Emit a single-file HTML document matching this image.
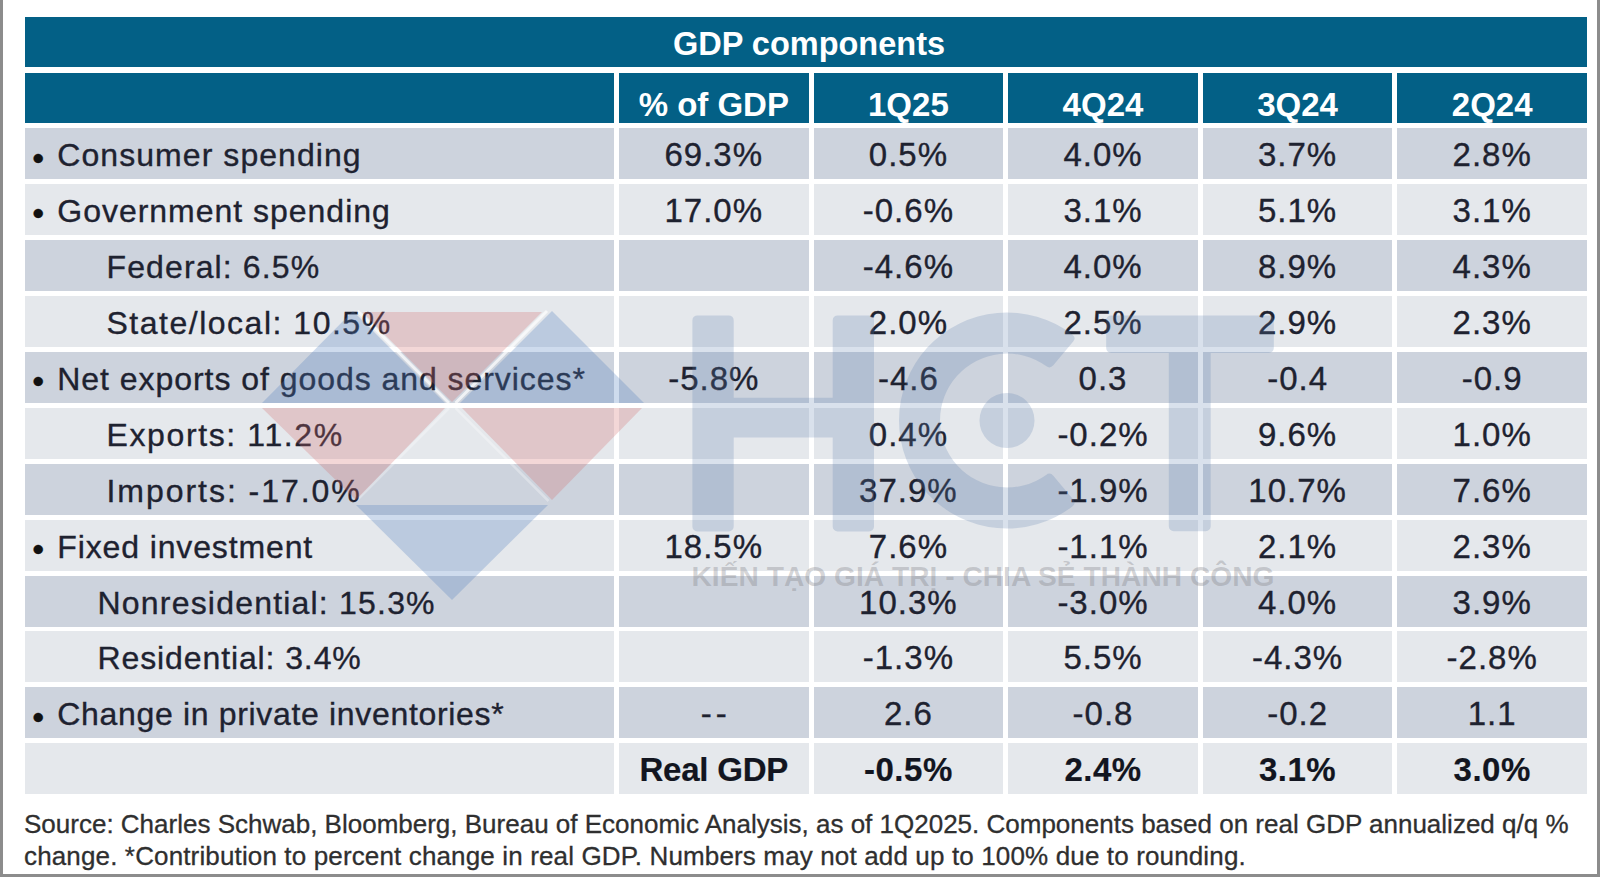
<!DOCTYPE html>
<html><head><meta charset="utf-8"><title>GDP components</title><style>
*{margin:0;padding:0;box-sizing:border-box}
html,body{width:1600px;height:877px;overflow:hidden;background:#fff}
body{position:relative;font-family:"Liberation Sans",Arial,sans-serif;color:#1e2230}
.bg{position:absolute}
.d{background:#cdd3dd}
.w{background:#e5e8ec}
.hb{background:#036086}
.c{position:absolute;display:flex;align-items:center;justify-content:center;white-space:nowrap}
.h{color:#fff;font-weight:bold;font-size:32.5px}
.h2{font-size:33px}
.r{font-size:32px;letter-spacing:1.2px;-webkit-text-stroke:0.35px #1e2230}
.n{font-size:33px;letter-spacing:1.0px}
.l{justify-content:flex-start}
.bd{font-weight:bold;letter-spacing:0.5px;color:#121520;-webkit-text-stroke:0.2px #121520}
.bul{position:absolute;font-size:34px;line-height:34px;color:#111;-webkit-text-stroke:0.3px #111}
.bl{position:absolute;background:#8c8c8c}
.ft{position:absolute;left:24px;font-size:26px;color:#2f2f2f;white-space:nowrap;line-height:1;-webkit-text-stroke:0.3px #2f2f2f}
.wm{position:absolute;left:0;top:0}
</style></head>
<body>
<div class="bg hb" style="left:25px;top:16.5px;width:1562px;height:50px"></div>
<div class="bg hb" style="left:25px;top:72.5px;width:589px;height:50.3px"></div>
<div class="bg hb" style="left:619px;top:72.5px;width:189.6px;height:50.3px"></div>
<div class="bg hb" style="left:813.6px;top:72.5px;width:189.6px;height:50.3px"></div>
<div class="bg hb" style="left:1008.2px;top:72.5px;width:189.6px;height:50.3px"></div>
<div class="bg hb" style="left:1202.8px;top:72.5px;width:189.6px;height:50.3px"></div>
<div class="bg hb" style="left:1397.4px;top:72.5px;width:189.6px;height:50.3px"></div>
<div class="bg d" style="left:25px;top:128.3px;width:589px;height:51px"></div>
<div class="bg d" style="left:619px;top:128.3px;width:189.6px;height:51px"></div>
<div class="bg d" style="left:813.6px;top:128.3px;width:189.6px;height:51px"></div>
<div class="bg d" style="left:1008.2px;top:128.3px;width:189.6px;height:51px"></div>
<div class="bg d" style="left:1202.8px;top:128.3px;width:189.6px;height:51px"></div>
<div class="bg d" style="left:1397.4px;top:128.3px;width:189.6px;height:51px"></div>
<div class="bg w" style="left:25px;top:184.2px;width:589px;height:51px"></div>
<div class="bg w" style="left:619px;top:184.2px;width:189.6px;height:51px"></div>
<div class="bg w" style="left:813.6px;top:184.2px;width:189.6px;height:51px"></div>
<div class="bg w" style="left:1008.2px;top:184.2px;width:189.6px;height:51px"></div>
<div class="bg w" style="left:1202.8px;top:184.2px;width:189.6px;height:51px"></div>
<div class="bg w" style="left:1397.4px;top:184.2px;width:189.6px;height:51px"></div>
<div class="bg d" style="left:25px;top:240.1px;width:589px;height:51px"></div>
<div class="bg d" style="left:619px;top:240.1px;width:189.6px;height:51px"></div>
<div class="bg d" style="left:813.6px;top:240.1px;width:189.6px;height:51px"></div>
<div class="bg d" style="left:1008.2px;top:240.1px;width:189.6px;height:51px"></div>
<div class="bg d" style="left:1202.8px;top:240.1px;width:189.6px;height:51px"></div>
<div class="bg d" style="left:1397.4px;top:240.1px;width:189.6px;height:51px"></div>
<div class="bg w" style="left:25px;top:296.0px;width:589px;height:51px"></div>
<div class="bg w" style="left:619px;top:296.0px;width:189.6px;height:51px"></div>
<div class="bg w" style="left:813.6px;top:296.0px;width:189.6px;height:51px"></div>
<div class="bg w" style="left:1008.2px;top:296.0px;width:189.6px;height:51px"></div>
<div class="bg w" style="left:1202.8px;top:296.0px;width:189.6px;height:51px"></div>
<div class="bg w" style="left:1397.4px;top:296.0px;width:189.6px;height:51px"></div>
<div class="bg d" style="left:25px;top:351.9px;width:589px;height:51px"></div>
<div class="bg d" style="left:619px;top:351.9px;width:189.6px;height:51px"></div>
<div class="bg d" style="left:813.6px;top:351.9px;width:189.6px;height:51px"></div>
<div class="bg d" style="left:1008.2px;top:351.9px;width:189.6px;height:51px"></div>
<div class="bg d" style="left:1202.8px;top:351.9px;width:189.6px;height:51px"></div>
<div class="bg d" style="left:1397.4px;top:351.9px;width:189.6px;height:51px"></div>
<div class="bg w" style="left:25px;top:407.8px;width:589px;height:51px"></div>
<div class="bg w" style="left:619px;top:407.8px;width:189.6px;height:51px"></div>
<div class="bg w" style="left:813.6px;top:407.8px;width:189.6px;height:51px"></div>
<div class="bg w" style="left:1008.2px;top:407.8px;width:189.6px;height:51px"></div>
<div class="bg w" style="left:1202.8px;top:407.8px;width:189.6px;height:51px"></div>
<div class="bg w" style="left:1397.4px;top:407.8px;width:189.6px;height:51px"></div>
<div class="bg d" style="left:25px;top:463.7px;width:589px;height:51px"></div>
<div class="bg d" style="left:619px;top:463.7px;width:189.6px;height:51px"></div>
<div class="bg d" style="left:813.6px;top:463.7px;width:189.6px;height:51px"></div>
<div class="bg d" style="left:1008.2px;top:463.7px;width:189.6px;height:51px"></div>
<div class="bg d" style="left:1202.8px;top:463.7px;width:189.6px;height:51px"></div>
<div class="bg d" style="left:1397.4px;top:463.7px;width:189.6px;height:51px"></div>
<div class="bg w" style="left:25px;top:519.6px;width:589px;height:51px"></div>
<div class="bg w" style="left:619px;top:519.6px;width:189.6px;height:51px"></div>
<div class="bg w" style="left:813.6px;top:519.6px;width:189.6px;height:51px"></div>
<div class="bg w" style="left:1008.2px;top:519.6px;width:189.6px;height:51px"></div>
<div class="bg w" style="left:1202.8px;top:519.6px;width:189.6px;height:51px"></div>
<div class="bg w" style="left:1397.4px;top:519.6px;width:189.6px;height:51px"></div>
<div class="bg d" style="left:25px;top:575.5px;width:589px;height:51px"></div>
<div class="bg d" style="left:619px;top:575.5px;width:189.6px;height:51px"></div>
<div class="bg d" style="left:813.6px;top:575.5px;width:189.6px;height:51px"></div>
<div class="bg d" style="left:1008.2px;top:575.5px;width:189.6px;height:51px"></div>
<div class="bg d" style="left:1202.8px;top:575.5px;width:189.6px;height:51px"></div>
<div class="bg d" style="left:1397.4px;top:575.5px;width:189.6px;height:51px"></div>
<div class="bg w" style="left:25px;top:631.4px;width:589px;height:51px"></div>
<div class="bg w" style="left:619px;top:631.4px;width:189.6px;height:51px"></div>
<div class="bg w" style="left:813.6px;top:631.4px;width:189.6px;height:51px"></div>
<div class="bg w" style="left:1008.2px;top:631.4px;width:189.6px;height:51px"></div>
<div class="bg w" style="left:1202.8px;top:631.4px;width:189.6px;height:51px"></div>
<div class="bg w" style="left:1397.4px;top:631.4px;width:189.6px;height:51px"></div>
<div class="bg d" style="left:25px;top:687.3px;width:589px;height:51px"></div>
<div class="bg d" style="left:619px;top:687.3px;width:189.6px;height:51px"></div>
<div class="bg d" style="left:813.6px;top:687.3px;width:189.6px;height:51px"></div>
<div class="bg d" style="left:1008.2px;top:687.3px;width:189.6px;height:51px"></div>
<div class="bg d" style="left:1202.8px;top:687.3px;width:189.6px;height:51px"></div>
<div class="bg d" style="left:1397.4px;top:687.3px;width:189.6px;height:51px"></div>
<div class="bg w" style="left:25px;top:743.2px;width:589px;height:51px"></div>
<div class="bg w" style="left:619px;top:743.2px;width:189.6px;height:51px"></div>
<div class="bg w" style="left:813.6px;top:743.2px;width:189.6px;height:51px"></div>
<div class="bg w" style="left:1008.2px;top:743.2px;width:189.6px;height:51px"></div>
<div class="bg w" style="left:1202.8px;top:743.2px;width:189.6px;height:51px"></div>
<div class="bg w" style="left:1397.4px;top:743.2px;width:189.6px;height:51px"></div>
<svg class="wm" width="1600" height="877" viewBox="0 0 1600 877">
<g stroke="#fff" stroke-opacity="0.7" stroke-width="3">
 <line x1="357.5" y1="311" x2="449" y2="403"/>
 <line x1="547" y1="311" x2="455.5" y2="403"/>
 </g>
<g stroke="#fff" stroke-opacity="0.3" stroke-width="2.5">
 <line x1="449" y1="408" x2="356" y2="501"/>
 <line x1="455.5" y1="408" x2="548.5" y2="501"/>
</g>
</svg>
<div class="c h" style="left:25px;top:16.5px;width:1562px;height:50px;padding-left:6px;padding-top:6px">GDP components</div>
<div class="c h h2" style="left:619px;top:72.5px;width:189.6px;height:50.3px;padding-top:14px">% of GDP</div>
<div class="c h h2" style="left:813.6px;top:72.5px;width:189.6px;height:50.3px;padding-top:14px">1Q25</div>
<div class="c h h2" style="left:1008.2px;top:72.5px;width:189.6px;height:50.3px;padding-top:14px">4Q24</div>
<div class="c h h2" style="left:1202.8px;top:72.5px;width:189.6px;height:50.3px;padding-top:14px">3Q24</div>
<div class="c h h2" style="left:1397.4px;top:72.5px;width:189.6px;height:50.3px;padding-top:14px">2Q24</div>
<div class="c r l" style="left:25px;top:128.3px;width:589px;height:51px;padding-left:32.3px;padding-top:4px;letter-spacing:1.06px">Consumer spending</div>
<div class="bul" style="left:32.3px;top:140.5px">&#8226;</div>
<div class="c r n" style="left:619px;top:128.3px;width:189.6px;height:51px;padding-top:3px">69.3%</div>
<div class="c r n" style="left:813.6px;top:128.3px;width:189.6px;height:51px;padding-top:3px">0.5%</div>
<div class="c r n" style="left:1008.2px;top:128.3px;width:189.6px;height:51px;padding-top:3px">4.0%</div>
<div class="c r n" style="left:1202.8px;top:128.3px;width:189.6px;height:51px;padding-top:3px">3.7%</div>
<div class="c r n" style="left:1397.4px;top:128.3px;width:189.6px;height:51px;padding-top:3px">2.8%</div>
<div class="c r l" style="left:25px;top:184.2px;width:589px;height:51px;padding-left:32.3px;padding-top:4px;letter-spacing:0.98px">Government spending</div>
<div class="bul" style="left:32.3px;top:196.4px">&#8226;</div>
<div class="c r n" style="left:619px;top:184.2px;width:189.6px;height:51px;padding-top:3px">17.0%</div>
<div class="c r n" style="left:813.6px;top:184.2px;width:189.6px;height:51px;padding-top:3px">-0.6%</div>
<div class="c r n" style="left:1008.2px;top:184.2px;width:189.6px;height:51px;padding-top:3px">3.1%</div>
<div class="c r n" style="left:1202.8px;top:184.2px;width:189.6px;height:51px;padding-top:3px">5.1%</div>
<div class="c r n" style="left:1397.4px;top:184.2px;width:189.6px;height:51px;padding-top:3px">3.1%</div>
<div class="c r l" style="left:25px;top:240.1px;width:589px;height:51px;padding-left:81.5px;padding-top:4px;letter-spacing:1.12px">Federal: 6.5%</div>
<div class="c r n" style="left:813.6px;top:240.1px;width:189.6px;height:51px;padding-top:3px">-4.6%</div>
<div class="c r n" style="left:1008.2px;top:240.1px;width:189.6px;height:51px;padding-top:3px">4.0%</div>
<div class="c r n" style="left:1202.8px;top:240.1px;width:189.6px;height:51px;padding-top:3px">8.9%</div>
<div class="c r n" style="left:1397.4px;top:240.1px;width:189.6px;height:51px;padding-top:3px">4.3%</div>
<div class="c r l" style="left:25px;top:296.0px;width:589px;height:51px;padding-left:81.5px;padding-top:4px;letter-spacing:1.51px">State/local: 10.5%</div>
<div class="c r n" style="left:813.6px;top:296.0px;width:189.6px;height:51px;padding-top:3px">2.0%</div>
<div class="c r n" style="left:1008.2px;top:296.0px;width:189.6px;height:51px;padding-top:3px">2.5%</div>
<div class="c r n" style="left:1202.8px;top:296.0px;width:189.6px;height:51px;padding-top:3px">2.9%</div>
<div class="c r n" style="left:1397.4px;top:296.0px;width:189.6px;height:51px;padding-top:3px">2.3%</div>
<div class="c r l" style="left:25px;top:351.9px;width:589px;height:51px;padding-left:32.3px;padding-top:4px;letter-spacing:0.95px">Net exports of goods and services*</div>
<div class="bul" style="left:32.3px;top:364.1px">&#8226;</div>
<div class="c r n" style="left:619px;top:351.9px;width:189.6px;height:51px;padding-top:3px">-5.8%</div>
<div class="c r n" style="left:813.6px;top:351.9px;width:189.6px;height:51px;padding-top:3px">-4.6</div>
<div class="c r n" style="left:1008.2px;top:351.9px;width:189.6px;height:51px;padding-top:3px">0.3</div>
<div class="c r n" style="left:1202.8px;top:351.9px;width:189.6px;height:51px;padding-top:3px">-0.4</div>
<div class="c r n" style="left:1397.4px;top:351.9px;width:189.6px;height:51px;padding-top:3px">-0.9</div>
<div class="c r l" style="left:25px;top:407.8px;width:589px;height:51px;padding-left:81.5px;padding-top:4px;letter-spacing:1.62px">Exports: 11.2%</div>
<div class="c r n" style="left:813.6px;top:407.8px;width:189.6px;height:51px;padding-top:3px">0.4%</div>
<div class="c r n" style="left:1008.2px;top:407.8px;width:189.6px;height:51px;padding-top:3px">-0.2%</div>
<div class="c r n" style="left:1202.8px;top:407.8px;width:189.6px;height:51px;padding-top:3px">9.6%</div>
<div class="c r n" style="left:1397.4px;top:407.8px;width:189.6px;height:51px;padding-top:3px">1.0%</div>
<div class="c r l" style="left:25px;top:463.7px;width:589px;height:51px;padding-left:81.5px;padding-top:4px;letter-spacing:1.96px">Imports: -17.0%</div>
<div class="c r n" style="left:813.6px;top:463.7px;width:189.6px;height:51px;padding-top:3px">37.9%</div>
<div class="c r n" style="left:1008.2px;top:463.7px;width:189.6px;height:51px;padding-top:3px">-1.9%</div>
<div class="c r n" style="left:1202.8px;top:463.7px;width:189.6px;height:51px;padding-top:3px">10.7%</div>
<div class="c r n" style="left:1397.4px;top:463.7px;width:189.6px;height:51px;padding-top:3px">7.6%</div>
<div class="c r l" style="left:25px;top:519.6px;width:589px;height:51px;padding-left:32.3px;padding-top:4px;letter-spacing:0.87px">Fixed investment</div>
<div class="bul" style="left:32.3px;top:531.8px">&#8226;</div>
<div class="c r n" style="left:619px;top:519.6px;width:189.6px;height:51px;padding-top:3px">18.5%</div>
<div class="c r n" style="left:813.6px;top:519.6px;width:189.6px;height:51px;padding-top:3px">7.6%</div>
<div class="c r n" style="left:1008.2px;top:519.6px;width:189.6px;height:51px;padding-top:3px">-1.1%</div>
<div class="c r n" style="left:1202.8px;top:519.6px;width:189.6px;height:51px;padding-top:3px">2.1%</div>
<div class="c r n" style="left:1397.4px;top:519.6px;width:189.6px;height:51px;padding-top:3px">2.3%</div>
<div class="c r l" style="left:25px;top:575.5px;width:589px;height:51px;padding-left:72.5px;padding-top:4px;letter-spacing:1.2px">Nonresidential: 15.3%</div>
<div class="c r n" style="left:813.6px;top:575.5px;width:189.6px;height:51px;padding-top:3px">10.3%</div>
<div class="c r n" style="left:1008.2px;top:575.5px;width:189.6px;height:51px;padding-top:3px">-3.0%</div>
<div class="c r n" style="left:1202.8px;top:575.5px;width:189.6px;height:51px;padding-top:3px">4.0%</div>
<div class="c r n" style="left:1397.4px;top:575.5px;width:189.6px;height:51px;padding-top:3px">3.9%</div>
<div class="c r l" style="left:25px;top:631.4px;width:589px;height:51px;padding-left:72.5px;padding-top:4px;letter-spacing:0.89px">Residential: 3.4%</div>
<div class="c r n" style="left:813.6px;top:631.4px;width:189.6px;height:51px;padding-top:3px">-1.3%</div>
<div class="c r n" style="left:1008.2px;top:631.4px;width:189.6px;height:51px;padding-top:3px">5.5%</div>
<div class="c r n" style="left:1202.8px;top:631.4px;width:189.6px;height:51px;padding-top:3px">-4.3%</div>
<div class="c r n" style="left:1397.4px;top:631.4px;width:189.6px;height:51px;padding-top:3px">-2.8%</div>
<div class="c r l" style="left:25px;top:687.3px;width:589px;height:51px;padding-left:32.3px;padding-top:4px;letter-spacing:0.67px">Change in private inventories*</div>
<div class="bul" style="left:32.3px;top:699.5px">&#8226;</div>
<div class="c r n" style="left:619px;top:687.3px;width:189.6px;height:51px;padding-top:3px;letter-spacing:4px;padding-left:4px">--</div>
<div class="c r n" style="left:813.6px;top:687.3px;width:189.6px;height:51px;padding-top:3px">2.6</div>
<div class="c r n" style="left:1008.2px;top:687.3px;width:189.6px;height:51px;padding-top:3px">-0.8</div>
<div class="c r n" style="left:1202.8px;top:687.3px;width:189.6px;height:51px;padding-top:3px">-0.2</div>
<div class="c r n" style="left:1397.4px;top:687.3px;width:189.6px;height:51px;padding-top:3px">1.1</div>
<div class="c r n bd" style="left:619px;top:743.2px;width:189.6px;height:51px;padding-top:3px;letter-spacing:-0.2px">Real GDP</div>
<div class="c r n bd" style="left:813.6px;top:743.2px;width:189.6px;height:51px;padding-top:3px">-0.5%</div>
<div class="c r n bd" style="left:1008.2px;top:743.2px;width:189.6px;height:51px;padding-top:3px">2.4%</div>
<div class="c r n bd" style="left:1202.8px;top:743.2px;width:189.6px;height:51px;padding-top:3px">3.1%</div>
<div class="c r n bd" style="left:1397.4px;top:743.2px;width:189.6px;height:51px;padding-top:3px">3.0%</div>
<div class="bl" style="left:0;top:0;width:3px;height:877px"></div>
<div class="bl" style="left:1597px;top:0;width:3px;height:877px"></div>
<div class="bl" style="left:0;top:874px;width:1600px;height:3px"></div>
<div class="ft" style="top:811.3px">Source: Charles Schwab, Bloomberg, Bureau of Economic Analysis, as of 1Q2025. Components based on real GDP annualized q/q %</div>
<div class="ft" style="top:843.3px;letter-spacing:0.14px">change. *Contribution to percent change in real GDP. Numbers may not add up to 100% due to rounding.</div>
<svg class="wm" width="1600" height="877" viewBox="0 0 1600 877">
<g fill="#5a7daf" fill-opacity="0.23">
 <path d="M697.4,315.4 H728.7 A5,5 0 0 1 733.7,320.4 V397.8 H832.7 V320.4 A5,5 0 0 1 837.7,315.4 H869 A5,5 0 0 1 874,320.4 V526.4 A5,5 0 0 1 869,531.4 H837.7 A5,5 0 0 1 832.7,526.4 V437.5 H733.7 V526.4 A5,5 0 0 1 728.7,531.4 H697.4 A5,5 0 0 1 692.4,526.4 V320.4 A5,5 0 0 1 697.4,315.4 Z"/>
 <circle cx="1007" cy="420.5" r="27.5"/>
 <path d="M1111.2,315.4 H1268.8 A5,5 0 0 1 1273.8,320.4 V348 A5,5 0 0 1 1268.8,353 H1210.7 V526.3 A5,5 0 0 1 1205.7,531.3 H1173.8 A5,5 0 0 1 1168.8,526.3 V353 H1111.2 A5,5 0 0 1 1106.2,348 V320.4 A5,5 0 0 1 1111.2,315.4 Z"/>
</g>
<path d="M1073.2,341.6 Q1076.4,337.8 1072.55,334.67 A108,108 0 1 0 1072.55,506.33 Q1076.4,503.2 1073.2,499.4 L1053.28,475.65 Q1050.07,471.82 1046.11,474.9 A67,67 0 1 1 1046.11,366.1 Q1050.07,369.18 1053.28,365.35 Z" fill="#5a7daf" fill-opacity="0.23"/>
<g fill="#4f7dbd" fill-opacity="0.28">
 <polygon points="262,403 353,311 445,403"/>
 <polygon points="460,403 552,311 644,403"/>
 <polygon points="356,505 548,505 452,600"/>
</g>
<g fill="#d26a6a" fill-opacity="0.27">
 <polygon points="362,312 542,312 452,402"/>
 <polygon points="262,408 445,408 356,500"/>
 <polygon points="462,408 642,408 552,500"/>
</g>
<text x="691.5" y="586" font-family="Liberation Sans, sans-serif" font-size="27.5" font-weight="bold" fill="#7a7a80" fill-opacity="0.31" textLength="583" lengthAdjust="spacingAndGlyphs">KIẾN TẠO GIÁ TRỊ - CHIA SẺ THÀNH CÔNG</text>
</svg>
</body></html>
